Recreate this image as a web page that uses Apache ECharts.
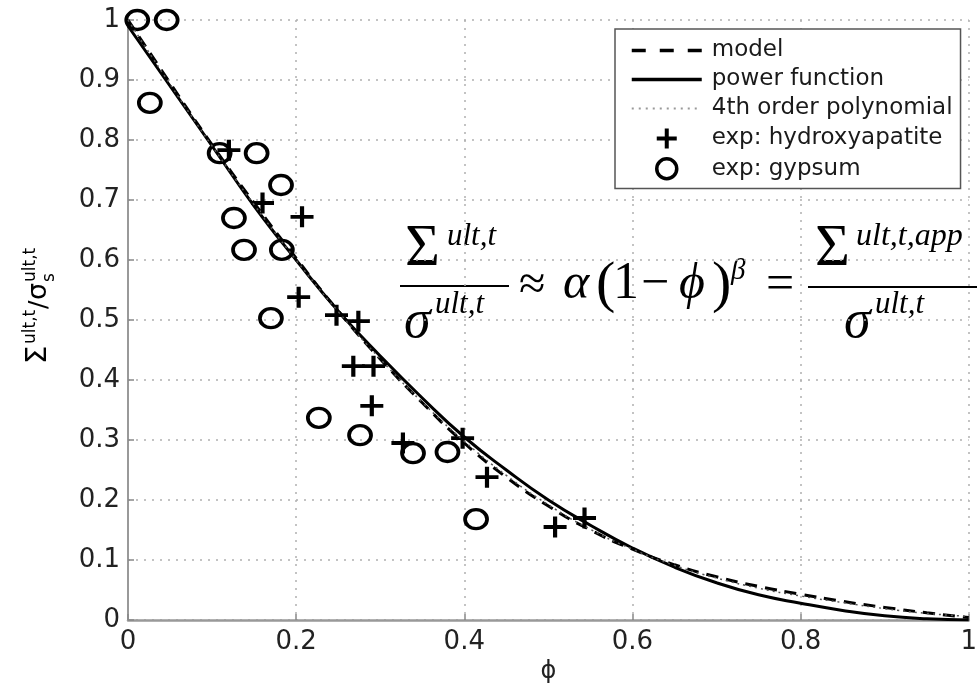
<!DOCTYPE html>
<html>
<head>
<meta charset="utf-8">
<script src="https://cdn.jsdelivr.net/npm/echarts@6/dist/echarts.min.js"></script>
<style>
html,body{margin:0;padding:0;background:#fff;}
#chart{width:980px;height:692px;}
</style>
</head>
<body>
<div id="chart"></div>
<script>
// fitted curves
var phi = [0, 0.05, 0.1, 0.15, 0.2, 0.25, 0.3, 0.35, 0.4, 0.45, 0.5, 0.55, 0.6, 0.65, 0.7, 0.75, 0.8, 0.85, 0.9, 0.95, 1];
var model = [1.0, 0.895, 0.792, 0.695, 0.603, 0.515, 0.435, 0.362, 0.295, 0.238, 0.19, 0.15, 0.118, 0.092, 0.072, 0.056, 0.043, 0.031, 0.021, 0.012, 0.004];
var power = [0.99, 0.89, 0.79, 0.69, 0.60, 0.515, 0.44, 0.37, 0.305, 0.25, 0.20, 0.158, 0.12, 0.088, 0.062, 0.042, 0.028, 0.016, 0.007, 0.002, 0];
var poly = [1.0, 0.893, 0.79, 0.692, 0.6, 0.514, 0.435, 0.363, 0.298, 0.241, 0.192, 0.151, 0.118, 0.091, 0.07, 0.053, 0.04, 0.029, 0.019, 0.011, 0.006];
// experimental points
var hydroX = [0.120, 0.160, 0.207, 0.203, 0.248, 0.274, 0.268, 0.292, 0.290, 0.327, 0.398, 0.427, 0.508, 0.543];
var hydroY = [0.783, 0.695, 0.672, 0.538, 0.508, 0.498, 0.423, 0.423, 0.357, 0.295, 0.303, 0.238, 0.155, 0.170];
var gypX = [0.011, 0.046, 0.026, 0.109, 0.153, 0.182, 0.126, 0.138, 0.183, 0.170, 0.227, 0.276, 0.339, 0.380, 0.414];
var gypY = [1.0, 1.0, 0.862, 0.778, 0.778, 0.725, 0.67, 0.617, 0.617, 0.503, 0.337, 0.308, 0.278, 0.28, 0.168];
var xTicks = ['0', '0.2', '0.4', '0.6', '0.8', '1'];

var sans = '"DejaVu Sans", "Liberation Sans", sans-serif';
var serif = '"Liberation Serif", "DejaVu Serif", serif';

function pairs(xs, ys) {
	return xs.map(function(x, i) { return [x, ys[i]]; });
}
// text placed by its left edge and baseline
function txt(s, x, base, size, italic, family) {
	return {
		type: 'text', x: x, y: base - 0.3 * size, silent: true,
		style: {
			text: s, fill: '#000', align: 'left', verticalAlign: 'middle',
			font: (italic ? 'italic ' : '') + size + 'px ' + (family || serif)
		}
	};
}
function hline(x1, x2, y) {
	return {type: 'line', silent: true, shape: {x1: x1, y1: y, x2: x2, y2: y}, style: {stroke: '#000', lineWidth: 2}};
}

var chart = echarts.init(document.getElementById('chart'));

var equation = [
	txt('Σ', 405, 267, 60, false),
	txt('ult,t', 447, 246, 31, true),
	hline(400, 509, 286),
	txt('σ', 404, 339, 54, true),
	txt('ult,t', 435, 314, 31, true),
	txt('≈', 519, 301, 48, false),
	txt('α', 563, 300, 50, true),
	txt('(', 596, 303, 58, false),
	txt('1', 613, 300, 52, false),
	txt('−', 641, 300, 50, false),
	txt('ϕ', 679, 300, 50, true),
	txt(')', 712, 303, 58, false),
	txt('β', 731, 280, 29, true),
	txt('=', 766, 301, 50, false),
	txt('Σ', 815, 267, 60, false),
	txt('ult,t,app', 856, 246, 32, true),
	hline(808, 977, 287),
	txt('σ', 844, 339, 54, true),
	txt('ult,t', 875, 314, 31, true)
];

var yName = {
	type: 'group', x: 47, y: 364, rotation: Math.PI / 2, silent: true,
	children: [
		txt('Σ', 0, 0, 29, false, sans),
		txt('ult,t', 20, -11, 17, false, sans),
		txt('/', 55, 0, 25, false, sans),
		txt('σ', 64, 0, 27, false, sans),
		txt('ult,t', 82, -11, 17, false, sans),
		txt('s', 82, 8, 17, false, sans)
	]
};

var hideDot = {opacity: 0};

var option = {
	animation: false,
	backgroundColor: '#fff',
	grid: {left: 128, right: 5, top: 20, bottom: 72},
	legend: {
		orient: 'vertical', left: 615, top: 29,
		padding: [10, 8, 8, 15],
		itemWidth: 70, itemHeight: 20, itemGap: 6,
		backgroundColor: '#fff', borderColor: '#555', borderWidth: 1.5,
		textStyle: {fontFamily: sans, fontSize: 23, lineHeight: 20, color: '#1a1a1a', padding: [0, 0, 0, 5]},
		selectedMode: false,
		data: [
			{name: 'model', itemStyle: hideDot, lineStyle: {width: 3.5, type: [14, 14]}},
			{name: 'power function', itemStyle: hideDot, lineStyle: {width: 3.5}},
			{name: '4th order polynomial', itemStyle: hideDot, lineStyle: {width: 2, color: '#999', type: [2, 5]}},
			{name: 'exp: hydroxyapatite', itemStyle: {borderWidth: 4, opacity: 1}},
			{name: 'exp: gypsum', itemStyle: {borderWidth: 3.5, opacity: 1}}
		]
	},
	xAxis: {
		type: 'value', min: 0, max: 1, interval: 0.2,
		name: 'ϕ', nameLocation: 'middle', nameGap: 40,
		nameTextStyle: {fontFamily: sans, fontSize: 24, color: '#222'},
		axisLine: {lineStyle: {color: '#999', width: 2.5}},
		axisTick: {inside: true, length: 6, lineStyle: {color: '#888', width: 1.5}},
		axisLabel: {
			fontFamily: sans, fontSize: 26, color: '#222', margin: 9,
			formatter: function(v) { return xTicks[Math.round(v * 5)]; }
		},
		splitLine: {show: true, lineStyle: {color: '#b0b0b0', type: [2, 6], width: 1.5}}
	},
	yAxis: {
		type: 'value', min: 0, max: 1, interval: 0.1,
		axisLine: {show: true, lineStyle: {color: '#999', width: 2}},
		axisTick: {show: true, inside: true, length: 6, lineStyle: {color: '#888', width: 1.5}},
		axisLabel: {
			fontFamily: sans, fontSize: 26, color: '#222', margin: 8,
			formatter: function(v) { return String(Math.round(v * 10) / 10); }
		},
		splitLine: {show: true, lineStyle: {color: '#b0b0b0', type: [2, 6], width: 1.5}}
	},
	graphic: equation.concat([yName]),
	series: [
		{
			name: 'model', type: 'line', smooth: true, symbol: 'none', silent: true,
			data: pairs(phi, model),
			lineStyle: {color: '#000', width: 3, type: [12, 8]},
			itemStyle: {color: '#000'}
		},
		{
			name: 'power function', type: 'line', smooth: true, symbol: 'none', silent: true,
			data: pairs(phi, power),
			lineStyle: {color: '#000', width: 3},
			itemStyle: {color: '#000'}
		},
		{
			name: '4th order polynomial', type: 'line', smooth: true, symbol: 'none', silent: true,
			data: pairs(phi, poly),
			lineStyle: {color: '#555', width: 1.5, type: [2, 4]},
			itemStyle: {color: '#555'}
		},
		{
			name: 'exp: hydroxyapatite', type: 'scatter', silent: true,
			symbol: 'path://M10,0L10,20M0,10L20,10', symbolSize: [23, 21],
			data: pairs(hydroX, hydroY),
			itemStyle: {color: 'none', borderColor: '#000', borderWidth: 4, opacity: 1}
		},
		{
			name: 'exp: gypsum', type: 'scatter', silent: true,
			symbol: 'circle', symbolSize: [22, 19],
			data: pairs(gypX, gypY),
			itemStyle: {color: 'transparent', borderColor: '#000', borderWidth: 3.5, opacity: 1}
		}
	]
};
chart.setOption(option);
</script>
</body>
</html>
